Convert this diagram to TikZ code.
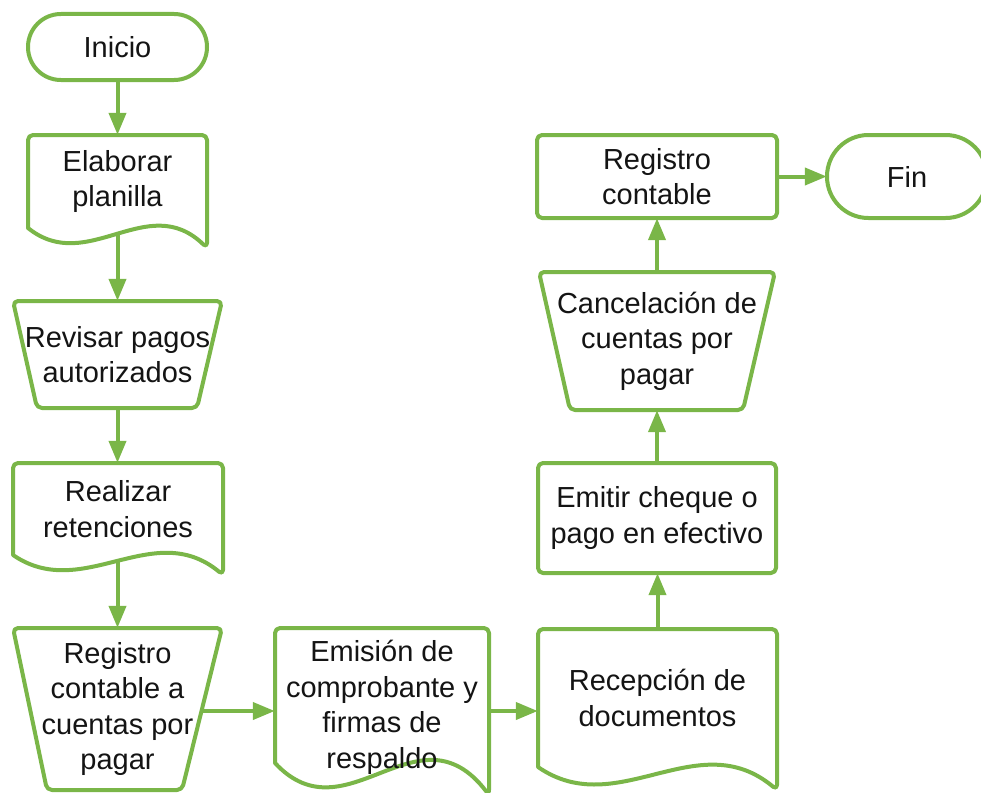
\documentclass[tikz,border=0pt]{standalone}
\usepackage{fontspec}
\setmainfont{Liberation Sans}
\usetikzlibrary{arrows.meta}
\definecolor{fgreen}{RGB}{122,182,72}
\definecolor{ftext}{RGB}{20,20,20}
\pgfdeclarelayer{arrlayer}
\pgfdeclarelayer{shplayer}
\pgfsetlayers{arrlayer,shplayer,main}
% document shape: x0, x1, top, y-left-bottom, y-right-bottom
\newcommand{\mydocshape}[5]{%
  \pgfmathsetmacro{\dw}{(#2)-(#1)}%
  \pgfmathsetmacro{\dd}{(#5)-(#4)}%
  \pgfmathsetmacro{\ca}{(#1)+2*\dw/3}%
  \pgfmathsetmacro{\cb}{(#4)-1.9*\dd}%
  \pgfmathsetmacro{\cc}{(#1)+\dw/3}%
  \pgfmathsetmacro{\cd}{(#4)+2.4*\dd}%
  \path[flowshape] (#1,#4) [rounded corners=5pt] -- (#1,#3) -- (#2,#3) -- (#2,#5) [sharp corners]
    .. controls (\ca,\cb) and (\cc,\cd) .. (#1,#4) -- cycle;%
}
\begin{document}
\begin{tikzpicture}[x=1pt,y=-1pt,
  flowshape/.style={draw=fgreen, line width=4pt, fill=white, line join=round},
  flowtext/.style={inner sep=0pt, align=center, text=ftext, font=\fontsize{29}{35.5}\selectfont},
  flowarrow/.style={draw=fgreen, line width=4pt, -{Triangle[length=22pt,width=17pt]}}]
\useasboundingbox (0,0) rectangle (981,792);

% text nodes (sized to the shapes)
\node[flowtext, minimum width=179pt, minimum height=66pt]  (ini) at (117.5,47)  {Inicio};
\node[flowtext, minimum width=179pt, minimum height=93pt]  (ela) at (117.5,181.5) {Elaborar\\planilla};
\node[flowtext, minimum width=209pt, minimum height=107pt] (rev) at (117.5,354.5) {Revisar pagos\\autorizados};
\node[flowtext, minimum width=210pt, minimum height=92pt]  (rea) at (118,509)   {Realizar\\retenciones};
\node[flowtext, minimum width=209pt, minimum height=162pt] (reg) at (117.5,709) {Registro\\contable a\\cuentas por\\pagar};
\node[flowtext, minimum width=214pt, minimum height=157pt] (emi) at (382,707.5) {Emisión de\\comprobante y\\firmas de\\respaldo};
\node[flowtext, minimum width=239pt, minimum height=138pt] (rec) at (657.5,698) {Recepción de\\documentos};
\node[flowtext, minimum width=238pt, minimum height=110pt] (emc) at (657,518)   {Emitir cheque o\\pago en efectivo};
\node[flowtext, minimum width=236pt, minimum height=138pt] (can) at (657,341)   {Cancelación de\\cuentas por\\pagar};
\node[flowtext, minimum width=240pt, minimum height=83pt]  (rc)  at (657,176.5) {Registro\\contable};
\node[flowtext, minimum width=160pt, minimum height=83pt]  (fin) at (907,176.5) {Fin};

% shapes
\begin{pgfonlayer}{shplayer}
  \path[flowshape, rounded corners=32.9pt] (28,14) rectangle (207,80);
  \mydocshape{28}{207}{135}{228}{248}
  \path[flowshape, rounded corners=5pt] (13,301) -- (222,301) -- (197,408) -- (37,408) -- cycle;
  \mydocshape{13}{223}{463}{555}{575}
  \path[flowshape, rounded corners=5pt] (13,628) -- (222,628) -- (182,790) -- (47,790) -- cycle;
  \mydocshape{275}{489}{628}{763}{795}
  \mydocshape{538}{777}{629}{767}{790}
  \path[flowshape, rounded corners=5pt] (538,463) rectangle (776,573);
  \path[flowshape, rounded corners=5pt] (539,272) -- (775,272) -- (743,410) -- (570,410) -- cycle;
  \path[flowshape, rounded corners=5pt] (537,135) rectangle (777,218);
  \path[flowshape, rounded corners=41.4pt] (827,135) rectangle (987,218);
\end{pgfonlayer}

% connectors
\begin{pgfonlayer}{arrlayer}
  \draw[flowarrow] (ini.south) -- (ela.north);
  \draw[flowarrow] (ela.south) -- (rev.north);
  \draw[flowarrow] (rev.south) -- (rev.south |- rea.north);
  \draw[flowarrow] (rea.south -| reg.north) -- (reg.north);
  \draw[flowarrow] ([yshift=-2pt]reg.center) -- ([yshift=-2pt]reg.center -| emi.west);
  \draw[flowarrow] ([yshift=-2pt]reg.center -| emi.east) -- ([yshift=-2pt]reg.center -| rec.west);
  \draw[flowarrow] (rec.north) -- (rec.north |- emc.south);
  \draw[flowarrow] (emc.north) -- (can.south);
  \draw[flowarrow] (can.north) -- (rc.south);
  \draw[flowarrow] (rc.east) -- (fin.west);
\end{pgfonlayer}
\end{tikzpicture}
\end{document}
